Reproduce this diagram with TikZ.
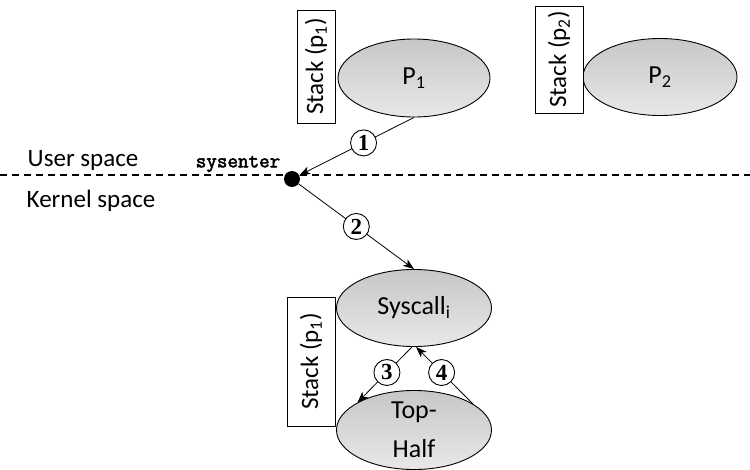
\documentclass[tikz,border=0pt]{standalone}
\usepackage{fontspec}
\setmainfont{Carlito}
\newfontfamily\serifb{Liberation Serif}
\newfontfamily\monob[FakeBold=2.5]{Latin Modern Mono}
\usetikzlibrary{shapes.geometric,arrows.meta}
\begin{document}
\begin{tikzpicture}[x=1pt,y=-1pt,
  proc/.style={ellipse,draw,line width=0.9pt,inner sep=0pt,
    top color=black!22,bottom color=black!9,
    font=\fontsize{26}{28}\selectfont},
  stackbox/.style={draw,line width=0.9pt,fill=white,inner sep=0pt,
    font=\fontsize{25}{27}\selectfont},
  lbl/.style={font=\fontsize{25}{27}\selectfont},
  num/.style={circle,draw,fill=white,line width=0.9pt,inner sep=0pt,
    minimum size=26pt,font=\serifb\bfseries\fontsize{23}{23}\selectfont},
  arr/.style={line width=0.8pt,-{Stealth[length=11pt,width=8pt,inset=3pt]}},
  dot/.style={circle,fill=black,inner sep=0pt,minimum size=16pt}]
\useasboundingbox (0,0) rectangle (750,469);

% user/kernel boundary
\draw[dashed,line width=1.2pt,dash pattern=on 7pt off 5pt] (0,175) -- (750,175);
\node[lbl] (user) at (83,160) {User space};
\node[lbl] (kernel) at (91,201) {Kernel space};

% processes and their stacks
\node[proc,minimum width=152pt,minimum height=78pt] (p1) at (414,78) {P\textsubscript{1}};
\node[stackbox,minimum width=113pt,minimum height=38pt,rotate=90] (s1) at (316,66.5) {Stack (p\textsubscript{1})};
\node[proc,minimum width=154pt,minimum height=77pt] (p2) at (660,77) {P\textsubscript{2}};
\node[stackbox,minimum width=107pt,minimum height=48pt,rotate=90] (s2) at (559,59.5) {Stack (p\textsubscript{2})};

% kernel side
\node[dot] (entry) at (292,179) {};
\node[font=\monob\fontsize{20.5}{22}\selectfont] (sysl) at (238,164) {sysenter};
\node[proc,minimum width=155pt,minimum height=77pt] (sys) at (414,308) {Syscall\textsubscript{i}};
\node[stackbox,minimum width=129pt,minimum height=48pt,rotate=90] (s3) at (311,361.5) {Stack (p\textsubscript{1})};
\node[proc,minimum width=155pt,minimum height=74pt,align=center,
  font=\fontsize{26}{39}\selectfont] (top) at (414,430) {Top-\\Half};

% control flow
\draw[arr] (p1.south) -- (entry) node[num,pos=0.44] (n1) {1};
\draw[arr] (entry) -- (sys.north) node[num,pos=0.5] (n2) {2};
\draw[arr] (sys.-93) -- (top.154) node[num,pos=0.46] (n3) {3};
\draw[arr] (top.24) -- (sys.-87) node[num,pos=0.55] (n4) {4};
\end{tikzpicture}
\end{document}
